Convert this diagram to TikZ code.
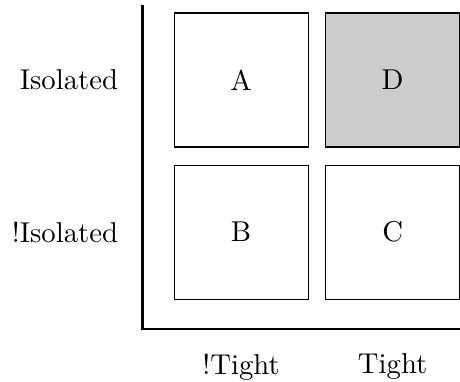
\documentclass[tikz,border=0pt]{standalone}
\usetikzlibrary{positioning}
\begin{document}
\begin{tikzpicture}[x=1pt,y=1pt,
  cell/.style={draw,thin,minimum size=46.7pt,inner sep=0pt},
  axis/.style={thick}]
\useasboundingbox (-49.6,-18.12) rectangle (110.67,114.63);

% nodes
\node[cell] (a) at (34.4,86.75) {A};
\node[cell,fill=black!20] (d) [right=5.7pt of a] {D};
\node[cell] (b) [below=5.9pt of a] {B};
\node[cell] (c) [right=5.7pt of b] {C};
\node (iso) [left=15.8pt of a] {Isolated};
\node (notiso) [left=15.8pt of b] {!Isolated};
\node (nottight) [below=15.3pt of b] {!Tight};
\node (tight) [below=15.3pt of c] {Tight};

% axes
\coordinate (top) at (0,112.9);
\coordinate (end) at (110.67,0);
\draw[axis] (top) |- (end);
\end{tikzpicture}
\end{document}
